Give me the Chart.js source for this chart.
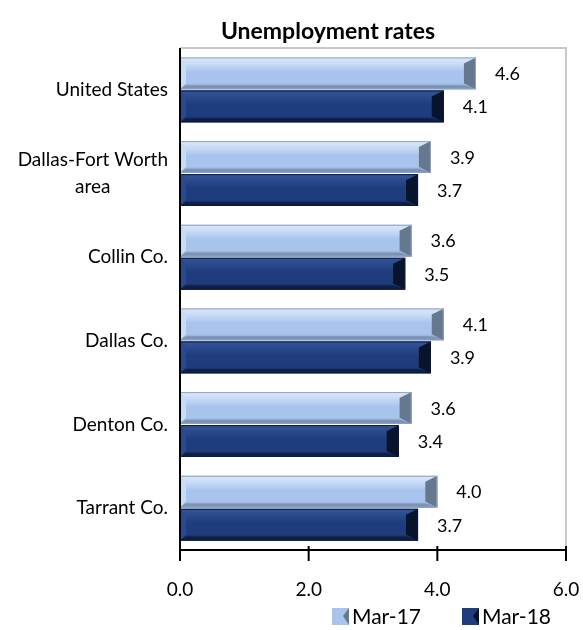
<!DOCTYPE html>
<html>
<head>
<meta charset="utf-8">
<script src="https://cdn.jsdelivr.net/npm/chart.js@4"></script>
<style>
  html, body { margin: 0; padding: 0; background: #fff; }
  #wrap { width: 583px; height: 630px; }
</style>
</head>
<body>
<div id="wrap"><canvas id="chart" width="583" height="630"></canvas></div>
<script>
const categories = [['United States'], ['Dallas-Fort Worth', 'area'], ['Collin Co.'], ['Dallas Co.'], ['Denton Co.'], ['Tarrant Co.']];
const mar17 = [4.6, 3.9, 3.6, 4.1, 3.6, 4.0];
const mar18 = [4.1, 3.7, 3.5, 3.9, 3.4, 3.7];
const seriesNames = ['Mar-17', 'Mar-18'];
const xTicks = [0, 2, 4, 6];

const FONT = 'Lato, "Open Sans", sans-serif';

// colours for the bevelled bars
const looks = [
  { base: '#a9c4ec', top: '#dbe8f9', light: '#c9dcf6', bottom: '#7d93b6', end: '#66788f' },
  { base: '#1f3c7c', top: '#34569c', light: '#2a4a8c', bottom: '#0e1f47', end: '#08132c' }
];

const bevelBars = {
  id: 'bevelBars',
  afterDatasetsDraw(chart) {
    const ctx = chart.ctx;
    chart.data.datasets.forEach((ds, di) => {
      const lk = looks[di];
      chart.getDatasetMeta(di).data.forEach((bar, i) => {
        const p = bar.getProps(['x', 'y', 'base', 'height'], true);
        const x0 = p.base, x1 = p.x, y0 = p.y - p.height / 2, y1 = p.y + p.height / 2;
        const h = y1 - y0, e = 6;
        ctx.save();
        const g = ctx.createLinearGradient(0, y0, 0, y1);
        g.addColorStop(0, lk.top);
        g.addColorStop(0.2, lk.light);
        g.addColorStop(0.45, lk.base);
        g.addColorStop(0.8, lk.base);
        g.addColorStop(1, lk.bottom);
        ctx.fillStyle = g;
        ctx.fillRect(x0, y0, x1 - x0, h);
        // right end bevel
        ctx.fillStyle = lk.end;
        ctx.beginPath();
        ctx.moveTo(x1, y0); ctx.lineTo(x1 - e * 2, y0 + e); ctx.lineTo(x1 - e * 2, y1 - e); ctx.lineTo(x1, y1);
        ctx.closePath(); ctx.fill();
        // bottom bevel
        ctx.fillStyle = lk.bottom;
        ctx.beginPath();
        ctx.moveTo(x0, y1); ctx.lineTo(x0 + e, y1 - 4); ctx.lineTo(x1 - e * 2, y1 - 4); ctx.lineTo(x1, y1);
        ctx.closePath(); ctx.fill();
        // left bevel
        ctx.fillStyle = lk.light;
        ctx.beginPath();
        ctx.moveTo(x0, y0); ctx.lineTo(x0 + e, y0 + e); ctx.lineTo(x0 + e, y1 - e); ctx.lineTo(x0, y1);
        ctx.closePath(); ctx.fill();
        // thin outline
        ctx.strokeStyle = di === 0 ? '#8ea3c2' : '#0b1a3c';
        ctx.lineWidth = 1;
        ctx.strokeRect(x0 + 0.5, y0 + 0.5, x1 - x0 - 1, h - 1);
        // value label
        ctx.fillStyle = '#000';
        ctx.font = '18px ' + FONT;
        ctx.textAlign = 'left';
        ctx.textBaseline = 'middle';
        ctx.fillText(ds.data[i].toFixed(1), x1 + 19, p.y + 1);
        ctx.restore();
      });
    });
  }
};

const extras = {
  id: 'extras',
  beforeDatasetsDraw(chart) {
    const { ctx, chartArea: a } = chart;
    ctx.save();
    ctx.strokeStyle = '#c8c8c8';
    ctx.lineWidth = 2;
    ctx.beginPath();
    ctx.moveTo(a.left, a.top); ctx.lineTo(a.right, a.top); ctx.lineTo(a.right, a.bottom);
    ctx.stroke();
    ctx.restore();
  },
  afterDraw(chart) {
    const { ctx, chartArea: a, scales } = chart;
    ctx.save();
    // axes
    ctx.strokeStyle = '#000';
    ctx.lineWidth = 2;
    ctx.beginPath();
    ctx.moveTo(a.left, a.top); ctx.lineTo(a.left, a.bottom); ctx.lineTo(a.right, a.bottom);
    ctx.stroke();
    xTicks.forEach(v => {
      const x = scales.x.getPixelForValue(v);
      ctx.beginPath(); ctx.moveTo(x, a.bottom - 4); ctx.lineTo(x, a.bottom + 11); ctx.stroke();
    });
    // category labels
    ctx.fillStyle = '#000';
    ctx.font = '19px ' + FONT;
    ctx.textAlign = 'center';
    ctx.textBaseline = 'middle';
    categories.forEach((lines, i) => {
      const y = scales.y.getPixelForValue(i);
      const widest = Math.max(...lines.map(l => ctx.measureText(l).width));
      const cx = a.left - 12 - widest / 2;
      lines.forEach((l, k) => ctx.fillText(l, cx, y + (k - (lines.length - 1) / 2) * 27));
    });
    // title
    ctx.font = 'bold 23px ' + FONT;
    ctx.fillText('Unemployment rates', 328, 32);
    // legend
    ctx.font = '21px ' + FONT;
    ctx.textAlign = 'left';
    const legendX = [332, 462];
    seriesNames.forEach((n, di) => {
      const lx = legendX[di], ly = 616;
      ctx.fillStyle = looks[di].base;
      ctx.fillRect(lx, ly - 8, 17, 17);
      ctx.fillStyle = looks[di].end;
      ctx.beginPath(); ctx.moveTo(lx + 17, ly - 8); ctx.lineTo(lx + 11, ly); ctx.lineTo(lx + 17, ly + 9); ctx.closePath(); ctx.fill();
      ctx.fillStyle = '#000';
      ctx.fillText(n, lx + 20, ly + 1);
    });
    ctx.restore();
  }
};

new Chart(document.getElementById('chart'), {
  type: 'bar',
  data: {
    labels: categories.map(c => c.join(' ')),
    datasets: [
      { label: seriesNames[0], data: mar17, backgroundColor: looks[0].base, categoryPercentage: 0.79, barPercentage: 0.96 },
      { label: seriesNames[1], data: mar18, backgroundColor: looks[1].base, categoryPercentage: 0.79, barPercentage: 0.96 }
    ]
  },
  options: {
    indexAxis: 'y',
    responsive: false,
    animation: false,
    layout: { padding: { left: 0, right: 17, top: 48, bottom: 0 } },
    plugins: { legend: { display: false }, title: { display: false }, tooltip: { enabled: false } },
    scales: {
      x: {
        min: 0, max: 6,
        afterBuildTicks: s => { s.ticks = xTicks.map(v => ({ value: v })); },
        afterFit: s => { s.height = 80; s.paddingLeft = 0; s.paddingRight = 0; },
        grid: { display: false },
        border: { display: false },
        ticks: { font: { size: 19, family: FONT }, color: '#000', padding: 20, callback: v => Number(v).toFixed(1) }
      },
      y: {
        afterFit: s => { s.width = 180; s.paddingTop = 0; s.paddingBottom = 0; },
        grid: { display: false },
        border: { display: false },
        ticks: { display: false }
      }
    }
  },
  plugins: [bevelBars, extras]
});
</script>
</body>
</html>
